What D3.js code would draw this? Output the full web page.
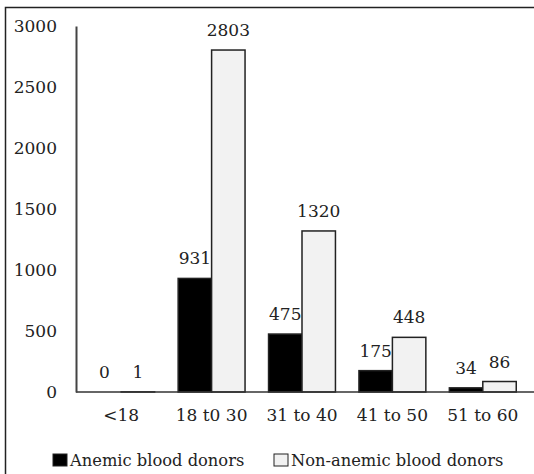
<!DOCTYPE html>
<html>
<head>
<meta charset="utf-8">
<script src="https://cdn.jsdelivr.net/npm/d3@7"></script>
<style>
  body { margin: 0; background: #fff; }
  text { font-family: "DejaVu Serif", serif; fill: #222; }
</style>
</head>
<body>
<script>
let categories = ['<18', '18 t0 30', '31 to 40', '41 to 50', '51 to 60'];
let anemic     = [0, 931, 475, 175, 34];
let nonAnemic  = [1, 2803, 1320, 448, 86];
let yTicks     = [0, 500, 1000, 1500, 2000, 2500, 3000];
let seriesNames = ['Anemic blood donors', 'Non-anemic blood donors'];

let width = 534;
let height = 474;
let fs = 17;

let svg = d3.select('body').append('svg')
  .attr('width', width)
  .attr('height', height);

// frame (only top / left visible in the original crop)
svg.append('rect')
  .attr('x', 5.5).attr('y', 7.5)
  .attr('width', 600).attr('height', 600)
  .attr('fill', 'none')
  .attr('stroke', '#222')
  .attr('stroke-width', 1.5);

let x = d3.scaleBand()
  .domain(categories)
  .range([76, 528])
  .paddingInner(0.26)
  .paddingOuter(0.13);

let x1 = d3.scaleBand()
  .domain([0, 1])
  .range([0, x.bandwidth()]);

let y = d3.scaleLinear()
  .domain([0, 3000])
  .range([392, 26]);

let rows = categories.map((c, i) => ({cat: c, vals: [anemic[i], nonAnemic[i]]}));
let fills = ['#000', '#f2f2f2'];

let groups = svg.append('g')
  .selectAll('g')
  .data(rows)
  .enter().append('g')
  .attr('transform', d => 'translate(' + x(d.cat) + ',0)');

groups.selectAll('rect')
  .data(d => d.vals.map((v, k) => ({v: v, k: k})))
  .enter().append('rect')
  .attr('x', d => x1(d.k))
  .attr('y', d => y(d.v))
  .attr('width', x1.bandwidth())
  .attr('height', d => y(0) - y(d.v))
  .attr('fill', d => fills[d.k])
  .attr('stroke', '#222')
  .attr('stroke-width', d => d.v > 0 ? 1.5 : 0);

groups.selectAll('text')
  .data(d => d.vals.map((v, k) => ({v: v, k: k})))
  .enter().append('text')
  .attr('x', d => x1(d.k) + x1.bandwidth() / 2)
  .attr('y', d => y(d.v) - 14)
  .attr('text-anchor', 'middle')
  .style('font-size', fs + 'px')
  .text(d => d.v);

// baseline
svg.append('line')
  .attr('x1', 76).attr('x2', 534)
  .attr('y1', y(0)).attr('y2', y(0))
  .attr('stroke', '#333').attr('stroke-width', 1.5);

// y axis
let yAxis = svg.append('g')
  .attr('transform', 'translate(76,0)')
  .call(d3.axisLeft(y).tickValues(yTicks).tickFormat(d3.format('d')).tickSize(0).tickPadding(19));
yAxis.select('.domain').attr('stroke', '#444').attr('stroke-width', 2);
yAxis.selectAll('text').style('font-size', fs + 'px').attr('fill', '#222');

// x axis labels
let xAxis = svg.append('g')
  .attr('transform', 'translate(0,' + y(0) + ')')
  .call(d3.axisBottom(x).tickSize(0).tickPadding(17));
xAxis.select('.domain').remove();
xAxis.selectAll('text').style('font-size', fs + 'px').attr('fill', '#222');

// legend
let legX = [53, 274];
let leg = svg.append('g')
  .selectAll('g')
  .data(seriesNames)
  .enter().append('g')
  .attr('transform', (d, i) => 'translate(' + legX[i] + ',454)');
leg.append('rect')
  .attr('width', 14).attr('height', 12)
  .attr('fill', (d, i) => fills[i])
  .attr('stroke', '#222').attr('stroke-width', 1);
leg.append('text')
  .attr('x', 17).attr('y', 12)
  .style('font-size', '16.3px')
  .text(d => d);
</script>
</body>
</html>
